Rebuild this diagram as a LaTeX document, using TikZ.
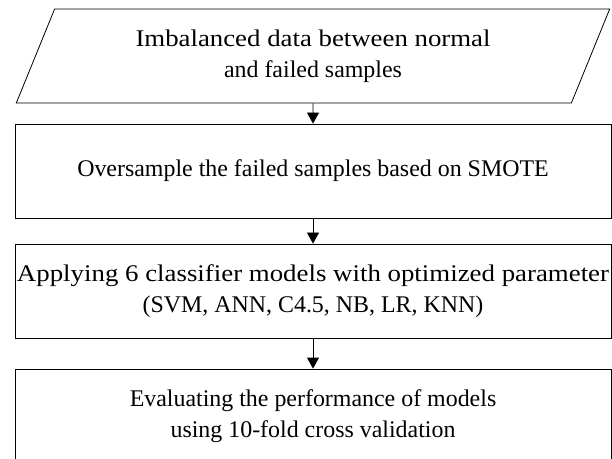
\documentclass[tikz,border=0pt]{standalone}
\usepackage{fontspec}
\setmainfont{Liberation Serif}
\usetikzlibrary{shapes.geometric,arrows.meta}
\tikzset{
  stepbox/.style={draw, line width=0.8bp, rectangle, minimum width=596bp,
    minimum height=94bp, align=center, inner sep=0pt},
  databox/.style={draw, line width=0.8bp, trapezium, trapezium left angle=63.4,
    trapezium right angle=116.6, trapezium stretches=true, minimum width=594bp,
    minimum height=94bp, align=center, inner sep=0pt},
  flow/.style={-{Triangle[length=11bp,width=12bp]}, line width=0.8bp}
}
\begin{document}
\begin{tikzpicture}[x=1bp, y=-1bp, font=\fontsize{24}{31}\selectfont]
    \useasboundingbox (0,0) rectangle (612,459);
    \node[databox] (data) at (313,56) {\resizebox{355bp}{\height}{Imbalanced data between normal}\\and failed samples};
    \node[stepbox] (smote) at (313,171) {Oversample the failed samples based on SMOTE};
    \node[stepbox] (models) at (313,291) {\resizebox{592bp}{\height}{Applying 6 classifier models with optimized parameter}\\(SVM, ANN, C4.5, NB, LR, KNN)};
    \node[stepbox] (eval) at (313,416) {Evaluating the performance of models\\using 10-fold cross validation};
    \draw[flow] (data) -- (smote);
    \draw[flow] (smote) -- (models);
    \draw[flow] (models) -- (eval);
\end{tikzpicture}
\end{document}
